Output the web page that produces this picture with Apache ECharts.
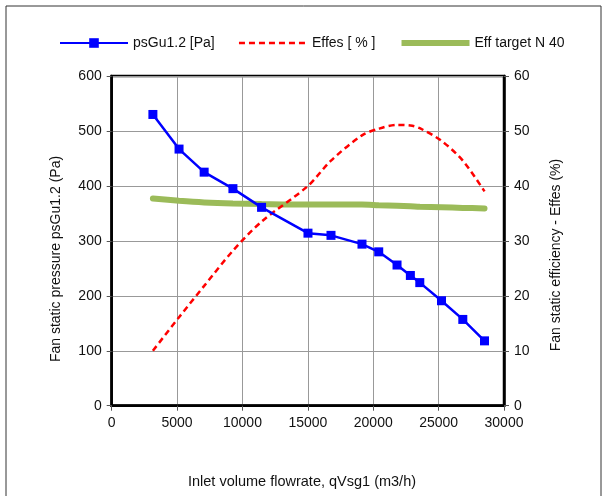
<!DOCTYPE html>
<html><head><meta charset="utf-8">
<script src="https://cdn.jsdelivr.net/npm/echarts@6/dist/echarts.min.js"></script>
<style>html,body{margin:0;padding:0;background:#fff}#c{width:604px;height:496px}</style>
</head><body><div id="c"></div>
<script>
const flow = [3150,5150,7070,9270,11460,15010,16770,19140,20420,21820,22840,23560,25220,26850,28510];
const pressure = [530,467,425,395,361,314,310,294,280,256,237,224,191,157,118];
const effes = [10,16.1,21.8,28.2,33.5,40,44.6,49.2,50.4,51.1,51.0,50.5,48.2,44.6,39];
const effTarget = [37.7,37.3,37.0,36.8,36.7,36.6,36.6,36.6,36.5,36.4,36.3,36.2,36.1,36.0,35.9];
const seriesNames = ['psGu1.2 [Pa]','Effes [ % ]','Eff target N 40'];
const xTitle = 'Inlet volume flowrate, qVsg1 (m3/h)';
const yLeftTitle = 'Fan static pressure psGu1.2 (Pa)';
const yRightTitle = 'Fan static efficiency - Effes (%)';

const pair = (xs, ys) => xs.map((x, i) => [x, ys[i]]);
const font = 'Liberation Sans, Arial, sans-serif';
const chart = echarts.init(document.getElementById('c'), null, {renderer: 'canvas'});
const axisCommon = {
  axisLine: {show: true, lineStyle: {color: '#000', width: 2.5}},
  axisTick: {show: true, inside: false, length: 5, lineStyle: {color: '#555', width: 1}},
  axisLabel: {color: '#111', fontSize: 14, fontFamily: font, margin: 10, formatter: v => String(v)},
};
chart.setOption({
  animation: false,
  backgroundColor: '#fff',
  textStyle: {fontFamily: font},
  grid: {left: 111.7, right: 100, top: 76, bottom: 90.3, show: true, borderColor: '#000', borderWidth: 2.5, containLabel: false},
  legend: {
    top: 31, left: 54, itemWidth: 68, itemHeight: 12, itemGap: 23,
    textStyle: {fontSize: 14, color: '#111', fontFamily: font},
    data: [
      {name: seriesNames[0]},
      {name: seriesNames[1], itemStyle: {opacity: 0}, lineStyle: {width: 2.5, type: [6, 4]}},
      {name: seriesNames[2], itemStyle: {opacity: 0}, lineStyle: {width: 6, cap: 'butt'}}
    ]
  },
  xAxis: Object.assign({}, axisCommon, {
    type: 'value', min: 0, max: 30000, interval: 5000,
    splitLine: {show: true, lineStyle: {color: '#999', width: 1}}
  }),
  yAxis: [
    Object.assign({}, axisCommon, {
      type: 'value', min: 0, max: 600, interval: 100, position: 'left',
      splitLine: {show: true, lineStyle: {color: '#999', width: 1}}
    }),
    Object.assign({}, axisCommon, {
      type: 'value', min: 0, max: 60, interval: 10, position: 'right',
      splitLine: {show: false}
    })
  ],
  graphic: [
    {type: 'rect', shape: {x: 6, y: 6, width: 595, height: 520}, style: {fill: 'none', stroke: '#333', lineWidth: 1}, silent: true},
    {type: 'text', x: 302, y: 482, style: {text: xTitle, font: '14.5px ' + font, fill: '#111', align: 'center', verticalAlign: 'middle'}},
    {type: 'text', x: 56, y: 259, rotation: Math.PI / 2, style: {text: yLeftTitle, font: '14px ' + font, fill: '#111', align: 'center', verticalAlign: 'middle'}},
    {type: 'text', x: 556, y: 255, rotation: Math.PI / 2, style: {text: yRightTitle, font: '14px ' + font, fill: '#111', align: 'center', verticalAlign: 'middle'}}
  ],
  series: [
    {
      name: seriesNames[2], type: 'line', yAxisIndex: 1, data: pair(flow, effTarget),
      smooth: 0.3, showSymbol: false, symbol: 'none',
      lineStyle: {color: '#9bbb59', width: 6, cap: 'round'}, itemStyle: {color: '#9bbb59'}, z: 2
    },
    {
      name: seriesNames[1], type: 'line', yAxisIndex: 1, data: pair(flow, effes),
      smooth: 0.3, symbol: 'none',
      lineStyle: {color: '#ff0000', width: 2.5, type: [6, 4]}, itemStyle: {color: '#ff0000'}, z: 3
    },
    {
      name: seriesNames[0], type: 'line', yAxisIndex: 0, data: pair(flow, pressure),
      symbol: 'rect', symbolSize: 9,
      lineStyle: {color: '#0000ff', width: 2.5}, itemStyle: {color: '#0000ff'}, z: 4
    }
  ]
});
</script></body></html>
